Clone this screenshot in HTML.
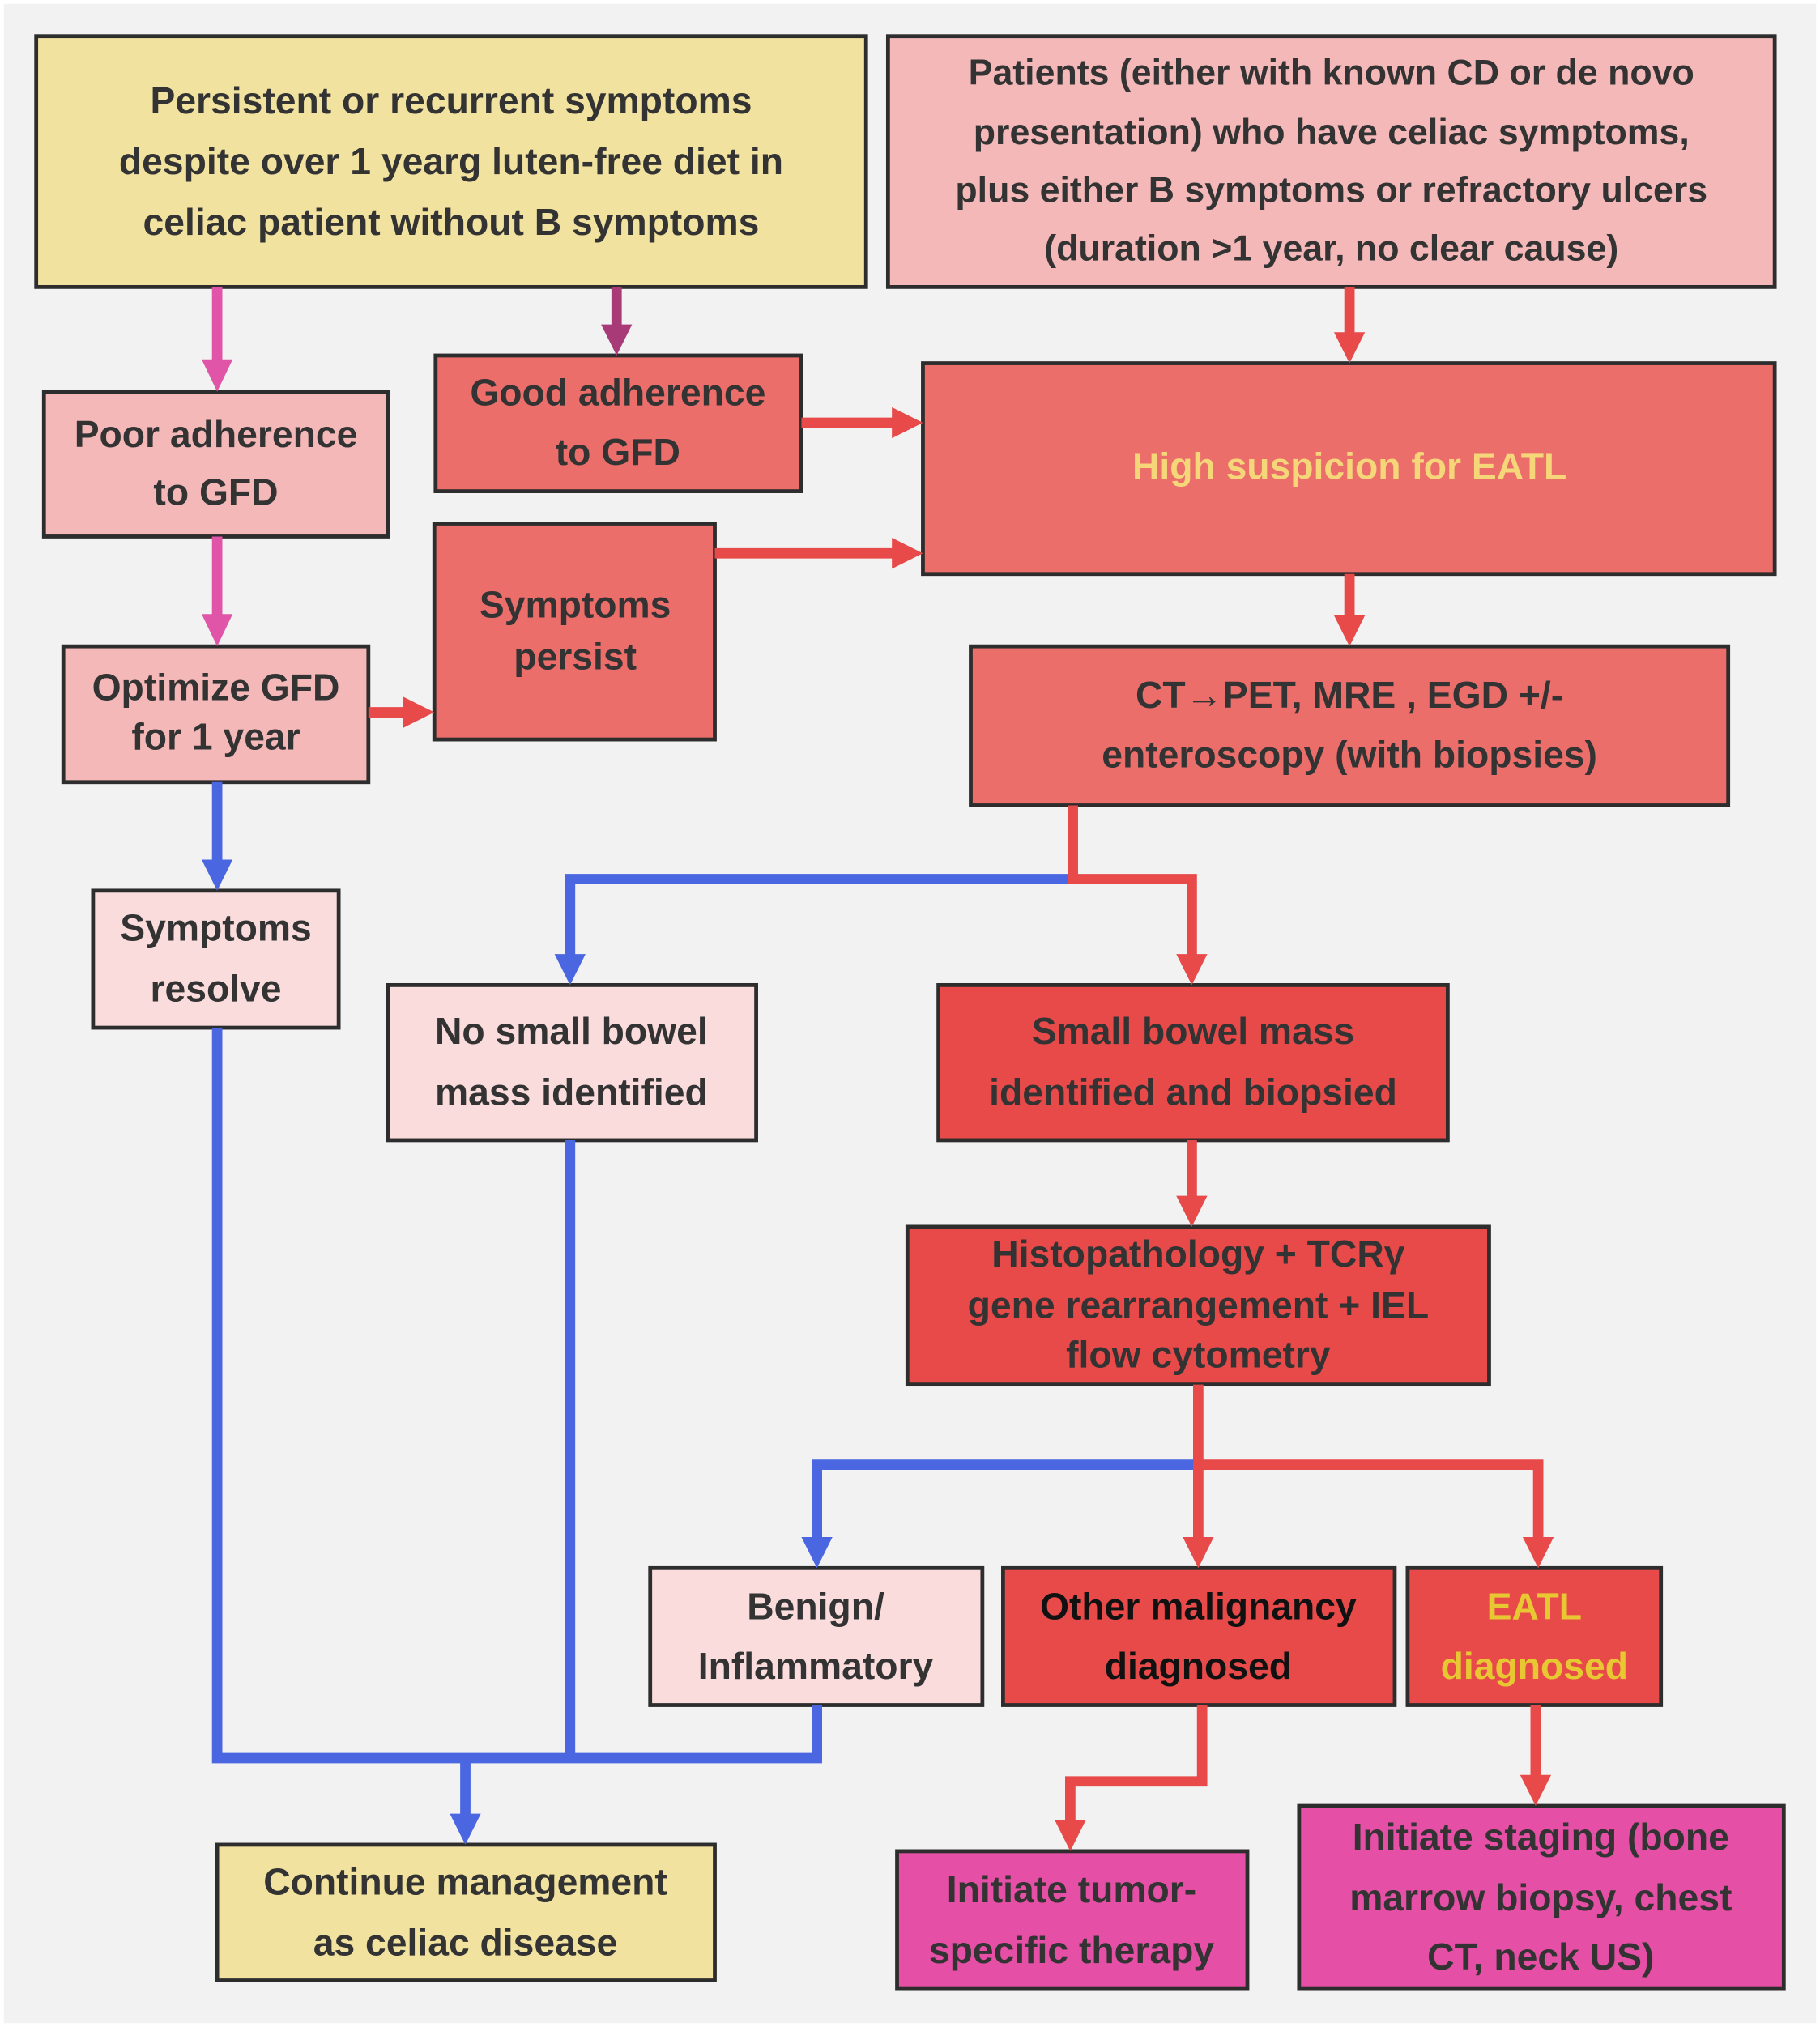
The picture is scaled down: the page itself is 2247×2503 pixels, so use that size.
<!DOCTYPE html>
<html><head><meta charset="utf-8"><style>
html,body{margin:0;padding:0;background:#fff;}
svg{display:block;}
text{font-family:"Liberation Sans",sans-serif;font-weight:bold;text-anchor:middle;dominant-baseline:middle;fill:#333;}
</style></head><body>
<svg width="2247" height="2503" viewBox="0 0 1408 1568" preserveAspectRatio="none" xmlns="http://www.w3.org/2000/svg">
<rect x="3" y="3" width="1402" height="1562" fill="#f2f2f2"/>
<g stroke="#2d2d2d" stroke-width="3">
<rect x="28" y="28" width="642" height="194" fill="#f1e29f"/>
<rect x="687" y="28" width="686" height="194" fill="#f5b8b8"/>
<rect x="34" y="303" width="266" height="112" fill="#f5b8b8"/>
<rect x="337" y="275" width="283" height="105" fill="#ec6e6b"/>
<rect x="714" y="281" width="659" height="163" fill="#ec6e6b"/>
<rect x="336" y="405" width="217" height="167" fill="#ec6e6b"/>
<rect x="49" y="500" width="236" height="105" fill="#f5b8b8"/>
<rect x="751" y="500" width="586" height="123" fill="#ec6e6b"/>
<rect x="72" y="689" width="190" height="106" fill="#fadcdc"/>
<rect x="300" y="762" width="285" height="120" fill="#fadcdc"/>
<rect x="726" y="762" width="394" height="120" fill="#e84a4a"/>
<rect x="702" y="949" width="450" height="122" fill="#e84a4a"/>
<rect x="503" y="1213" width="257" height="106" fill="#fadcdc"/>
<rect x="776" y="1213" width="303" height="106" fill="#e84a4a"/>
<rect x="1089" y="1213" width="196" height="106" fill="#e84a4a"/>
<rect x="168" y="1427" width="385" height="105" fill="#f1e29f"/>
<rect x="694" y="1432" width="271" height="106" fill="#e54fa5"/>
<rect x="1005" y="1397" width="375" height="141" fill="#e54fa5"/>
</g>
<g fill="none" stroke-width="8">
<path d="M168 222V282" stroke="#e055a8"/>
<path d="M168 415V480" stroke="#e055a8"/>
<path d="M477 222V255" stroke="#a83a78"/>
<path d="M620 327H694" stroke="#e84a4a"/>
<path d="M553 428H694" stroke="#e84a4a"/>
<path d="M285 551H316" stroke="#e84a4a"/>
<path d="M1044 222V261" stroke="#e84a4a"/>
<path d="M1044 444V480" stroke="#e84a4a"/>
<path d="M168 605V669" stroke="#4a66e0"/>
<path d="M830 680H441V742" stroke="#4a66e0"/>
<path d="M830 623V680H922V742" stroke="#e84a4a"/>
<path d="M922 882V929" stroke="#e84a4a"/>
<path d="M927 1133H632V1193" stroke="#4a66e0"/>
<path d="M927 1071V1193" stroke="#e84a4a"/>
<path d="M927 1133H1190V1193" stroke="#e84a4a"/>
<path d="M168 795V1360H632V1319" stroke="#4a66e0"/>
<path d="M441 882V1360" stroke="#4a66e0"/>
<path d="M360 1360V1407" stroke="#4a66e0"/>
<path d="M930 1319V1378H828V1412" stroke="#e84a4a"/>
<path d="M1188 1319V1377" stroke="#e84a4a"/>
</g>
<g>
<polygon points="156,278 180,278 168,303" fill="#e055a8"/>
<polygon points="156,475 180,475 168,500" fill="#e055a8"/>
<polygon points="465,251 489,251 477,275" fill="#a83a78"/>
<polygon points="690,315 690,339 714,327" fill="#e84a4a"/>
<polygon points="690,416 690,440 714,428" fill="#e84a4a"/>
<polygon points="312,539 312,563 336,551" fill="#e84a4a"/>
<polygon points="1032,257 1056,257 1044,281" fill="#e84a4a"/>
<polygon points="1032,476 1056,476 1044,500" fill="#e84a4a"/>
<polygon points="156,665 180,665 168,689" fill="#4a66e0"/>
<polygon points="429,738 453,738 441,762" fill="#4a66e0"/>
<polygon points="910,738 934,738 922,762" fill="#e84a4a"/>
<polygon points="910,925 934,925 922,949" fill="#e84a4a"/>
<polygon points="620,1189 644,1189 632,1213" fill="#4a66e0"/>
<polygon points="915,1189 939,1189 927,1213" fill="#e84a4a"/>
<polygon points="1178,1189 1202,1189 1190,1213" fill="#e84a4a"/>
<polygon points="348,1403 372,1403 360,1427" fill="#4a66e0"/>
<polygon points="816,1408 840,1408 828,1432" fill="#e84a4a"/>
<polygon points="1176,1373 1200,1373 1188,1397" fill="#e84a4a"/>
</g>
<g font-size="29">
<text x="349" y="80">Persistent or recurrent symptoms</text>
<text x="349" y="127">despite over 1 yearg luten-free diet in</text>
<text x="349" y="174">celiac patient without B symptoms</text>
<text x="1030" y="58" font-size="28">Patients (either with known CD or de novo</text>
<text x="1030" y="104" font-size="28">presentation) who have celiac symptoms,</text>
<text x="1030" y="149" font-size="28">plus either B symptoms or refractory ulcers</text>
<text x="1030" y="194" font-size="28">(duration &gt;1 year, no clear cause)</text>
<text x="167" y="338">Poor adherence</text>
<text x="167" y="383">to GFD</text>
<text x="478" y="306">Good adherence</text>
<text x="478" y="352">to GFD</text>
<text x="1044" y="363" style="fill:#f5d77a">High suspicion for EATL</text>
<text x="445" y="470">Symptoms</text>
<text x="445" y="510">persist</text>
<text x="167" y="534">Optimize GFD</text>
<text x="167" y="572">for 1 year</text>
<text x="1044" y="540">CT→PET, MRE , EGD +/-</text>
<text x="1044" y="586">enteroscopy (with biopsies)</text>
<text x="167" y="720">Symptoms</text>
<text x="167" y="767">resolve</text>
<text x="442" y="800">No small bowel</text>
<text x="442" y="847">mass identified</text>
<text x="923" y="800">Small bowel mass</text>
<text x="923" y="847">identified and biopsied</text>
<text x="927" y="972">Histopathology + TCRγ</text>
<text x="927" y="1012">gene rearrangement + IEL</text>
<text x="927" y="1050">flow cytometry</text>
<text x="631" y="1245">Benign/</text>
<text x="631" y="1291">Inflammatory</text>
<text x="927" y="1245" style="fill:#111">Other malignancy</text>
<text x="927" y="1291" style="fill:#111">diagnosed</text>
<text x="1187" y="1245" style="fill:#e8c832">EATL</text>
<text x="1187" y="1291" style="fill:#e8c832">diagnosed</text>
<text x="360" y="1458">Continue management</text>
<text x="360" y="1505">as celiac disease</text>
<text x="829" y="1464">Initiate tumor-</text>
<text x="829" y="1511">specific therapy</text>
<text x="1192" y="1423">Initiate staging (bone</text>
<text x="1192" y="1470">marrow biopsy, chest</text>
<text x="1192" y="1516">CT, neck US)</text>
</g>
</svg>
</body></html>
